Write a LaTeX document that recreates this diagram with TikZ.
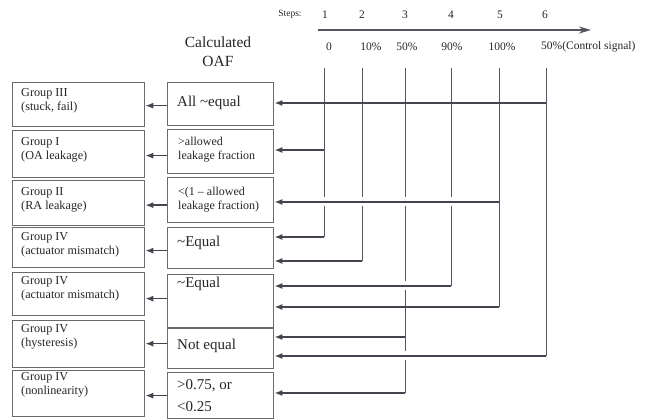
\documentclass[tikz,border=0pt]{standalone}
\usepackage{fontspec}
\setmainfont{Liberation Serif}
\usetikzlibrary{arrows.meta,calc}
\definecolor{lin}{HTML}{44444F}
\definecolor{vln}{HTML}{55555F}
\definecolor{bx}{HTML}{6A6A6A}
\definecolor{txt}{HTML}{262626}
\begin{document}
\begin{tikzpicture}[x=1pt,y=-1pt,
  box/.style={draw=bx,line width=1.3pt,anchor=north west,inner sep=0pt},
  lbox/.style={box,minimum width=132pt},
  rbox/.style={box,minimum width=106pt},
  ltxt/.style={anchor=west,inner sep=0pt,align=left,text=txt,font=\fontsize{12.2}{14}\selectfont},
  rsmall/.style={anchor=west,inner sep=0pt,align=left,text=txt,font=\fontsize{12}{14}\selectfont},
  rbig/.style={anchor=west,inner sep=0pt,align=left,text=txt,font=\fontsize{15}{22}\selectfont},
  lbl/.style={inner sep=0pt,text=txt,font=\fontsize{11.5}{13}\selectfont},
  vline/.style={draw=vln,line width=1pt},
  arr/.style={draw=lin,line width=1.5pt,-{Latex[length=8pt,width=6pt]}},
  gapw/.style={draw=white,line width=9pt}
]
\fill[white] (0,0) rectangle (656,419);
\useasboundingbox (0,0) rectangle (656,419);

% header
\node[inner sep=0pt,align=center,text=txt,font=\fontsize{15.5}{19}\selectfont] (hdr) at (218,52) {Calculated\\OAF};
\node[lbl,font=\fontsize{9.5}{11}\selectfont] (steps) at (290,14) {Steps:};
\foreach \n/\x in {1/325,2/362,3/405,4/451,5/500,6/545}
  \node[lbl] (s\n) at (\x,15) {\n};
\coordinate (sa) at (318,30);
\coordinate (sb) at (591,30);
\draw[draw=vln,line width=2.2pt,-{Stealth[length=12pt,width=7pt]}] (sa) -- (sb);
\node[lbl] (p1) at (329,47) {0};
\node[lbl] (p2) at (371,47) {10\%};
\node[lbl] (p3) at (407,47) {50\%};
\node[lbl] (p4) at (452,47) {90\%};
\node[lbl] (p5) at (502,47) {100\%};
\node[lbl,anchor=west] (p6) at (541,47) {50\%(Control signal)};

% left boxes
\node[lbox,minimum height=44pt] (L1) at (12,82) {};
\node[lbox,minimum height=47pt] (L2) at (12,130) {};
\node[lbox,minimum height=45pt] (L3) at (12,180) {};
\node[lbox,minimum height=40pt] (L4) at (12,227) {};
\node[lbox,minimum height=43pt] (L5) at (12,272) {};
\node[lbox,minimum height=47pt] (L6) at (12,320) {};
\node[lbox,minimum height=46pt] (L7) at (12,370) {};
\node[ltxt] (L1t) at (21,100.5) {Group III\\(stuck, fail)};
\node[ltxt] (L2t) at (21,150) {Group I\\(OA leakage)};
\node[ltxt] (L3t) at (21,199.5) {Group II\\(RA leakage)};
\node[ltxt] (L4t) at (21,245) {Group IV\\(actuator mismatch)};
\node[ltxt] (L5t) at (21,288.5) {Group IV\\(actuator mismatch)};
\node[ltxt] (L6t) at (21,336.5) {Group IV\\(hysteresis)};
\node[ltxt] (L7t) at (21,385) {Group IV\\(nonlinearity)};

% right boxes
\node[rbox,minimum height=43pt] (R1) at (167,82) {};
\node[rbox,minimum height=44pt] (R2) at (167,129) {};
\node[rbox,minimum height=45pt] (R3) at (167,177) {};
\node[rbox,minimum height=41pt] (R4) at (167,227) {};
\node[rbox,minimum height=53pt] (R5) at (167,274) {};
\node[rbox,minimum height=40pt] (R6) at (167,328) {};
\node[rbox,minimum height=46pt] (R7) at (167,372) {};
\node[rbig] (R1t) at (177,103) {All \textasciitilde equal};
\node[rsmall] (R2t) at (178,150) {>allowed\\leakage fraction};
\node[rsmall] (R3t) at (178,199.5) {<(1 – allowed\\leakage fraction)};
\node[rbig] (R4t) at (177,243) {\textasciitilde Equal};
\node[rbig] (R5t) at (177,284) {\textasciitilde Equal};
\node[rbig] (R6t) at (177,346) {Not equal};
\node[rbig] (R7t) at (177,396) {>0.75, or\\<0.25};

% arrows between boxes
\draw[arr] ([yshift=-1.5pt]R1.west) -- ([yshift=-1.5pt]R1.west -| L1.east);
\draw[arr] ([yshift=-4pt]R2.west) -- ([yshift=-4pt]R2.west -| L2.east);
\draw[arr] ([yshift=-5pt]R3.west) -- ([yshift=-5pt]R3.west -| L3.east);
\draw[arr] ([yshift=-2.5pt]R4.west) -- ([yshift=-2.5pt]R4.west -| L4.east);
\draw[arr] ([yshift=2.5pt]R5.west) -- ([yshift=2.5pt]R5.west -| L5.east);
\draw[arr] ([yshift=5pt]R6.west) -- ([yshift=5pt]R6.west -| L6.east);
\draw[arr] (R7.west) -- (R7.west -| L7.east);

% step columns
\coordinate (c1) at (324,68);
\coordinate (c2) at (362,68);
\coordinate (c3) at (405,68);
\coordinate (c4) at (451,68);
\coordinate (c5) at (499,68);
\coordinate (c6) at (546,68);
\coordinate (e1) at (324,237);
\coordinate (e2) at (362,261);
\coordinate (e3) at (405,393);
\coordinate (e4) at (451,286);
\coordinate (e5) at (499,307);
\coordinate (e6) at (546,356);
\coordinate (t1) at (324,150);
\coordinate (t3) at (405,337);
\coordinate (t5) at (499,202);
\coordinate (t6) at (546,103);
\foreach \i in {1,...,6} \draw[vline] (c\i) -- (e\i);

% gaps where lines cross
\draw[gapw] ([xshift=-3pt]t5) -- (318,202);
\draw[gapw] (412,286) -- (398,286);
\draw[gapw] (412,356) -- (398,356);

% connectors
\draw[arr] (t6) -- (t6 -| R1.east);
\draw[arr] (t1) -- (t1 -| R2.east);
\draw[arr] (t5) -- (t5 -| R3.east);
\draw[arr] (e1) -- (e1 -| R4.east);
\draw[arr] (e2) -- (e2 -| R4.east);
\draw[arr] (e4) -- (e4 -| R5.east);
\draw[arr] (e5) -- (e5 -| R5.east);
\draw[arr] (t3) -- (t3 -| R6.east);
\draw[arr] (e6) -- (e6 -| R6.east);
\draw[arr] (e3) -- (e3 -| R7.east);
\end{tikzpicture}
\end{document}
